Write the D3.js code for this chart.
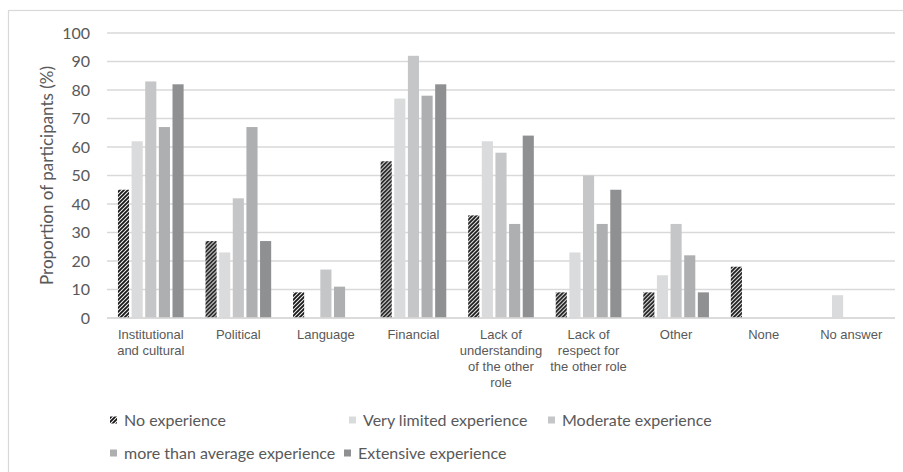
<!DOCTYPE html>
<html>
<head>
<meta charset="utf-8">
<script src="https://cdn.jsdelivr.net/npm/d3@7"></script>
<style>
  html, body { margin: 0; padding: 0; background: #fff; }
  svg { display: block; }
</style>
</head>
<body>
<svg id="chart" width="903" height="472"></svg>
<script>
// Obstacles reported by participants, split by prior experience level
const categories = [
  "Institutional and cultural", "Political", "Language", "Financial",
  "Lack of understanding of the other role", "Lack of respect for the other role",
  "Other", "None", "No answer"
];
// Wrapped tick labels, one array of lines per category
const categoryLabelLines = [
  ["Institutional", "and cultural"],
  ["Political"],
  ["Language"],
  ["Financial"],
  ["Lack of", "understanding", "of the other", "role"],
  ["Lack of", "respect for", "the other role"],
  ["Other"],
  ["None"],
  ["No answer"]
];
const seriesNames = [
  "No experience", "Very limited experience", "Moderate experience",
  "more than average experience", "Extensive experience"
];
const noExperience       = [45, 27,  9, 55, 36,  9,  9, 18, 0];
const veryLimited        = [62, 23,  0, 77, 62, 23, 15,  0, 8];
const moderate           = [83, 42, 17, 92, 58, 50, 33,  0, 0];
const moreThanAverage    = [67, 67, 11, 78, 33, 33, 22,  0, 0];
const extensive          = [82, 27,  0, 82, 64, 45,  9,  0, 0];
const seriesValues = [noExperience, veryLimited, moderate, moreThanAverage, extensive];
const yTicks = [0, 10, 20, 30, 40, 50, 60, 70, 80, 90, 100];
const yAxisTitle = "Proportion of participants (%)";

const fills = ["url(#hatch)", "#dadbdc", "#c5c6c8", "#aeafb1", "#8f9092"];
const textColor = "#595959";
const gridColor = "#d9d9d9";
const calibriLike = "Lato, 'Open Sans', sans-serif";
const arialLike = "'Liberation Sans', Arial, sans-serif";

const svg = d3.select("#chart");
const plot = { left: 107, right: 895, top: 33, bottom: 318 };

// Diagonal black/white stripes for the first series
const defs = svg.append("defs");
const pat = defs.append("pattern")
  .attr("id", "hatch").attr("patternUnits", "userSpaceOnUse")
  .attr("width", 4).attr("height", 4);
pat.append("rect").attr("width", 4).attr("height", 4).attr("fill", "#fff");
pat.append("path")
  .attr("d", "M-1,1 L1,-1 M0,4 L4,0 M3,5 L5,3")
  .attr("stroke", "#151515").attr("stroke-width", 1.9);

// Chart frame
svg.append("rect")
  .attr("x", 8.5).attr("y", 10.5).attr("width", 900).attr("height", 470)
  .attr("fill", "none").attr("stroke", gridColor).attr("stroke-width", 1.2);

const x0 = d3.scaleBand()
  .domain(categories)
  .range([plot.left, plot.right])
  .paddingInner(0.25).paddingOuter(0.125);
const x1 = d3.scaleBand()
  .domain(seriesNames)
  .range([0, x0.bandwidth()])
  .paddingInner(0.185).paddingOuter(0);
const y = d3.scaleLinear().domain([0, 100]).range([plot.bottom, plot.top]);

// Gridlines
svg.append("g").selectAll("line").data(yTicks).join("line")
  .attr("x1", plot.left).attr("x2", plot.right)
  .attr("y1", d => y(d)).attr("y2", d => y(d))
  .attr("stroke", gridColor).attr("stroke-width", 1.4);

// Y axis tick labels
const yAxis = d3.axisLeft(y).tickValues(yTicks).tickSize(0).tickPadding(0);
const yg = svg.append("g").attr("transform", `translate(${plot.left - 17},0)`).call(yAxis);
yg.select(".domain").remove();
yg.selectAll("text")
  .attr("fill", textColor).attr("font-family", calibriLike).attr("font-size", 16);

// Y axis title
svg.append("text")
  .attr("transform", `translate(53,${(plot.top + plot.bottom) / 2}) rotate(-90)`)
  .attr("text-anchor", "middle")
  .attr("fill", textColor).attr("font-family", calibriLike).attr("font-size", 17)
  .text(yAxisTitle);

// Bars
const groups = svg.append("g").selectAll("g").data(categories).join("g")
  .attr("transform", d => `translate(${x0(d)},0)`);
groups.selectAll("rect")
  .data((c, ci) => seriesNames.map((s, si) => ({ s, si, v: seriesValues[si][ci] })))
  .join("rect")
  .attr("x", d => x1(d.s))
  .attr("width", x1.bandwidth())
  .attr("y", d => y(d.v))
  .attr("height", d => y(0) - y(d.v))
  .attr("fill", d => fills[d.si]);

// Baseline
svg.append("line")
  .attr("x1", plot.left).attr("x2", plot.right)
  .attr("y1", y(0)).attr("y2", y(0))
  .attr("stroke", gridColor).attr("stroke-width", 1.4);

// Category labels
const xg = svg.append("g");
categories.forEach((c, i) => {
  const t = xg.append("text")
    .attr("x", x0(c) + x0.bandwidth() / 2)
    .attr("y", plot.bottom + 21)
    .attr("text-anchor", "middle")
    .attr("fill", textColor).attr("font-family", arialLike).attr("font-size", 13);
  categoryLabelLines[i].forEach((line, li) => {
    t.append("tspan").attr("x", x0(c) + x0.bandwidth() / 2)
      .attr("dy", li === 0 ? 0 : 16).text(line);
  });
});

// Legend: two rows
const legendSlots = [
  { x: 110, y: 420 }, { x: 349, y: 420 }, { x: 548, y: 420 },
  { x: 110, y: 453 }, { x: 344, y: 453 }
];
const lg = svg.append("g");
seriesNames.forEach((name, i) => {
  const slot = legendSlots[i];
  lg.append("rect")
    .attr("x", slot.x).attr("y", slot.y - 3.5)
    .attr("width", 7).attr("height", 7)
    .attr("fill", fills[i]);
  lg.append("text")
    .attr("x", slot.x + 14).attr("y", slot.y)
    .attr("dy", "0.35em")
    .attr("fill", textColor).attr("font-family", calibriLike).attr("font-size", 16)
    .text(name);
});
</script>
</body>
</html>
